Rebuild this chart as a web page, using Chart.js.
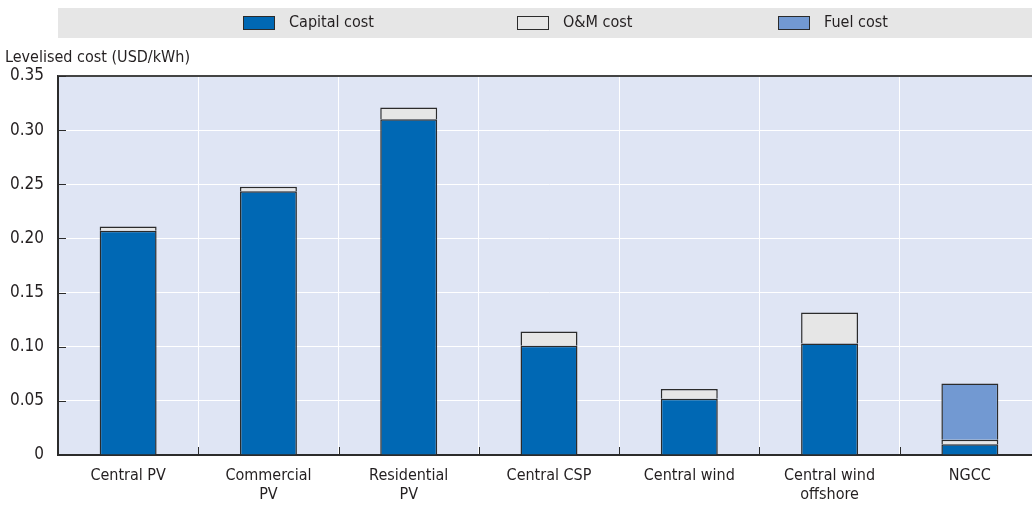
<!DOCTYPE html>
<html>
<head>
<meta charset="utf-8">
<script src="https://cdn.jsdelivr.net/npm/chart.js@4.4.1/dist/chart.umd.min.js"></script>
<style>
	html, body { margin: 0; padding: 0; background: #fff; overflow: hidden; }
	#costChart { display: block; }
</style>
</head>
<body>
<canvas id="costChart" width="1041" height="505"></canvas>
<script>
// Levelised cost by technology, USD/kWh
const categories = [
	'Central PV',
	['Commercial', 'PV'],
	['Residential', 'PV'],
	'Central CSP',
	'Central wind',
	['Central wind', 'offshore'],
	'NGCC'
];
const capitalCost = [0.207, 0.2435, 0.310, 0.101, 0.052, 0.103, 0.010];
const omCost = [0.004, 0.0043, 0.011, 0.013, 0.009, 0.0285, 0.004];
const fuelCost = [0, 0, 0, 0, 0, 0, 0.052];
const yTicks = [0, 0.05, 0.10, 0.15, 0.20, 0.25, 0.30, 0.35];

const FONT = '"Liberation Sans Narrow", "Arial Narrow", "DejaVu Sans Condensed", sans-serif';
const TEXT = '#231f20';
const DARK = '#2b2b2b';

// background of plot, header band, legend, axis title and inward tick marks
const decorations = {
	id: 'decorations',
	beforeDraw(chart) {
		const ctx = chart.ctx;
		const a = chart.chartArea;
		ctx.save();
		ctx.fillStyle = '#dfe5f4';
		ctx.fillRect(a.left, a.top, a.right - a.left, a.bottom - a.top);
		ctx.fillStyle = '#e6e6e6';
		ctx.fillRect(a.left, 8, chart.width - a.left, 30);
		ctx.restore();
	},
	afterDraw(chart) {
		const ctx = chart.ctx;
		const a = chart.chartArea;
		const x = chart.scales.x;
		const y = chart.scales.y;
		ctx.save();

		// top frame line
		ctx.strokeStyle = '#444';
		ctx.lineWidth = 2;
		ctx.beginPath();
		ctx.moveTo(a.left, a.top);
		ctx.lineTo(a.right, a.top);
		ctx.stroke();

		// tick marks pointing into the plot
		ctx.strokeStyle = DARK;
		ctx.lineWidth = 1;
		ctx.beginPath();
		yTicks.forEach(v => {
			if (v === 0) return;
			const py = Math.round(y.getPixelForValue(v)) + 0.5;
			ctx.moveTo(a.left, py);
			ctx.lineTo(a.left + 8, py);
		});
		for (let i = 1; i < categories.length; i++) {
			const px = Math.round((x.getPixelForValue(i - 1) + x.getPixelForValue(i)) / 2) + 0.5;
			ctx.moveTo(px, a.bottom);
			ctx.lineTo(px, a.bottom - 8);
		}
		ctx.stroke();

		// axis title
		ctx.fillStyle = TEXT;
		ctx.font = '16px ' + FONT;
		ctx.textBaseline = 'middle';
		ctx.textAlign = 'left';
		ctx.fillText('Levelised cost (USD/kWh)', 5, 58);

		// legend
		const slots = [243, 517, 778];
		chart.data.datasets.forEach((ds, i) => {
			const bx = slots[i];
			ctx.fillStyle = ds.backgroundColor;
			ctx.fillRect(bx, 16, 32, 14);
			ctx.strokeStyle = DARK;
			ctx.lineWidth = 1;
			ctx.strokeRect(bx + 0.5, 16.5, 31, 13);
			ctx.fillStyle = TEXT;
			ctx.fillText(ds.label, bx + 46, 23);
		});
		ctx.restore();
	}
};

const ctx = document.getElementById('costChart').getContext('2d');
const costChart = new Chart(ctx, {
	type: 'bar',
	data: {
		labels: categories,
		datasets: [
			{
				label: 'Capital cost',
				data: capitalCost,
				backgroundColor: '#0068b4',
				borderColor: DARK,
				borderWidth: 1.5
			},
			{
				label: 'O&M cost',
				data: omCost,
				backgroundColor: '#e6e6e6',
				borderColor: DARK,
				borderWidth: 1.5
			},
			{
				label: 'Fuel cost',
				data: fuelCost,
				backgroundColor: '#7299d2',
				borderColor: DARK,
				borderWidth: 1.5
			}
		]
	},
	options: {
		responsive: false,
		animation: false,
		layout: {
			padding: { top: 76, right: 1, left: 0, bottom: 0 }
		},
		datasets: {
			bar: {
				barPercentage: 0.406,
				categoryPercentage: 1
			}
		},
		scales: {
			x: {
				stacked: true,
				grid: {
					offset: true,
					color: '#ffffff',
					lineWidth: 1,
					drawTicks: false
				},
				border: { color: DARK, width: 2 },
				ticks: {
					color: TEXT,
					font: { family: FONT, size: 16 },
					padding: 11,
					maxRotation: 0,
					autoSkip: false
				},
				afterFit(scale) { scale.height = 50; }
			},
			y: {
				stacked: true,
				min: 0,
				max: 0.35,
				afterBuildTicks(scale) {
					scale.ticks = yTicks.map(v => ({ value: v }));
				},
				grid: {
					color: '#ffffff',
					lineWidth: 1,
					drawTicks: false
				},
				border: { color: DARK, width: 2 },
				ticks: {
					color: TEXT,
					font: { family: FONT, size: 17 },
					padding: 14,
					callback: v => v === 0 ? '0' : v.toFixed(2)
				},
				afterFit(scale) { scale.width = 58; }
			}
		},
		plugins: {
			legend: { display: false },
			tooltip: { enabled: false }
		}
	},
	plugins: [decorations]
});
</script>
</body>
</html>
